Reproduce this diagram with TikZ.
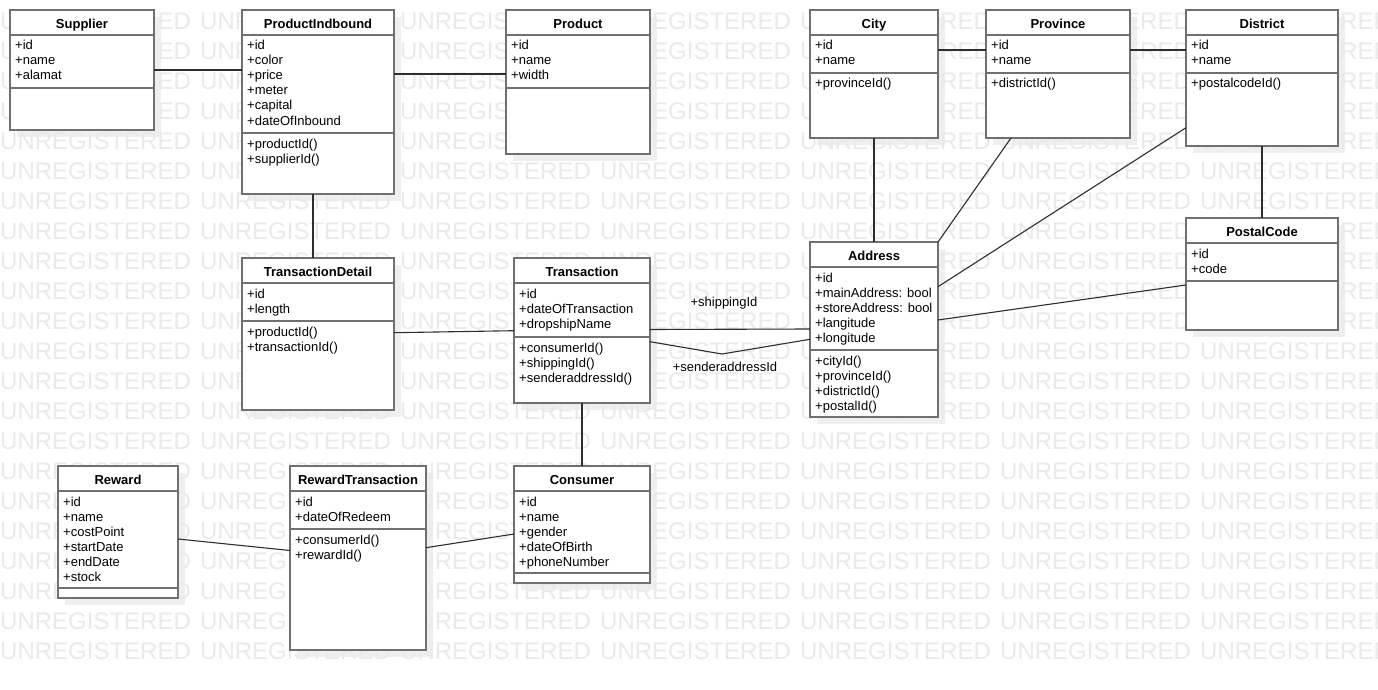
\documentclass[tikz,border=0pt]{standalone}
\usepackage{fontspec}
\setmainfont{Liberation Sans}
\pgfdeclarelayer{bglayer}
\pgfdeclarelayer{shadowlayer}
\pgfdeclarelayer{wmlayer}
\pgfsetlayers{bglayer,shadowlayer,wmlayer,main}
\definecolor{boxline}{HTML}{707070}
\definecolor{shadowc}{HTML}{EFEFEF}
\definecolor{wmc}{HTML}{EAEAEA}
\definecolor{linkc}{HTML}{2E2E2E}
\tikzset{
  clsbox/.style={draw=boxline, line width=2pt, fill=white, inner sep=0pt, outer sep=0pt, rectangle},
  clssep/.style={draw=boxline, line width=2pt},
  clsshadow/.style={fill=shadowc},
  clstitle/.style={font=\fontsize{13}{15}\selectfont\bfseries, anchor=base, inner sep=0pt},
  member/.style={font=\fontsize{13}{15}\selectfont, anchor=base west, inner sep=0pt},
  wmark/.style={font=\fontsize{24}{24}\selectfont, text=wmc, anchor=base west, inner sep=0pt},
  link/.style={draw=linkc, line width=1.1pt},
  linklabel/.style={font=\fontsize{13}{15}\selectfont, anchor=base, inner sep=0pt},
}
% #1 name, #2 x1, #3 y1, #4 x2, #5 y2, #6 first separator, #7 second separator, #8 title
\newcommand{\umlclass}[8]{%
  \begin{pgfonlayer}{shadowlayer}
    \fill[clsshadow] ({#2+7},{#3+7}) rectangle ({#4+7},{#5+7});
  \end{pgfonlayer}
  \node[clsbox, minimum width={#4-#2}, minimum height={#5-#3}] (#1) at ({(#2+#4)/2},{(#3+#5)/2}) {};
  \draw[clssep] ({#2},{#6}) -- ({#4},{#6});
  \draw[clssep] ({#2},{#7}) -- ({#4},{#7});
  \node[clstitle] (#1-title) at ({(#2+#4)/2},{#3+18.5}) {#8};
}
% #1 prefix, #2 x, #3 first baseline, #4 list
\newcommand{\umlmembers}[4]{%
  \foreach \mtext [count=\mi] in {#4} {
    \node[member] (#1-\mi) at ({#2},{#3+15*(\mi-1)}) {\mtext};
  }
}
\begin{document}
\begin{tikzpicture}[x=1pt,y=-1pt]
\useasboundingbox (0,0) rectangle (1378,690);
\begin{pgfonlayer}{bglayer}
\fill[white] (0,0) rectangle (1378,690);
\end{pgfonlayer}
% watermark
\begin{pgfonlayer}{wmlayer}
\begin{scope}
\clip (0,0) rectangle (1378,690);
\foreach \r in {0,...,21} {
  \foreach \c in {0,...,6} {
    \node[wmark] (wm-\r-\c) at ({200*\c},{29.5+30*\r}) {UNREGISTERED};
  }
}
\end{scope}
\end{pgfonlayer}

% classes
\umlclass{supplier}{10}{10}{154}{130}{35}{88}{Supplier}
\umlmembers{supplier-a}{15}{50}{{+id},{+name},{+alamat}}

\umlclass{pin}{242}{10}{394}{194}{35}{133}{ProductIndbound}
\umlmembers{pin-a}{247}{50}{{+id},{+color},{+price},{+meter},{+capital},{+dateOfInbound}}
\umlmembers{pin-m}{247}{148}{{+productId()},{+supplierId()}}

\umlclass{product}{506}{10}{650}{154}{35}{88}{Product}
\umlmembers{product-a}{511}{50}{{+id},{+name},{+width}}

\umlclass{city}{810}{10}{938}{138}{35}{73}{City}
\umlmembers{city-a}{815}{50}{{+id},{+name}}
\umlmembers{city-m}{815}{88}{{+provinceId()}}

\umlclass{prov}{986}{10}{1130}{138}{35}{73}{Province}
\umlmembers{prov-a}{991}{50}{{+id},{+name}}
\umlmembers{prov-m}{991}{88}{{+districtId()}}

\umlclass{district}{1186}{10}{1338}{146}{35}{73}{District}
\umlmembers{district-a}{1191}{50}{{+id},{+name}}
\umlmembers{district-m}{1191}{88}{{+postalcodeId()}}

\umlclass{postal}{1186}{218}{1338}{330}{243}{281}{PostalCode}
\umlmembers{postal-a}{1191}{258}{{+id},{+code}}

\umlclass{addr}{810}{242}{938}{417}{267}{350}{Address}
\umlmembers{addr-a}{815}{282}{{+id},{+mainAddress: bool},{+storeAddress: bool},{+langitude},{+longitude}}
\umlmembers{addr-m}{815}{365}{{+cityId()},{+provinceId()},{+districtId()},{+postalId()}}

\umlclass{td}{242}{258}{394}{410}{283}{321}{TransactionDetail}
\umlmembers{td-a}{247}{298}{{+id},{+length}}
\umlmembers{td-m}{247}{336}{{+productId()},{+transactionId()}}

\umlclass{trans}{514}{258}{650}{403}{283}{337}{Transaction}
\umlmembers{trans-a}{519}{298}{{+id},{+dateOfTransaction},{+dropshipName}}
\umlmembers{trans-m}{519}{352}{{+consumerId()},{+shippingId()},{+senderaddressId()}}

\umlclass{reward}{58}{466}{178}{598}{491}{588}{Reward}
\umlmembers{reward-a}{63}{506}{{+id},{+name},{+costPoint},{+startDate},{+endDate},{+stock}}

\umlclass{rt}{290}{466}{426}{650}{491}{529}{RewardTransaction}
\umlmembers{rt-a}{295}{506}{{+id},{+dateOfRedeem}}
\umlmembers{rt-m}{295}{544}{{+consumerId()},{+rewardId()}}

\umlclass{consumer}{514}{466}{650}{583}{491}{573}{Consumer}
\umlmembers{consumer-a}{519}{506}{{+id},{+name},{+gender},{+dateOfBirth},{+phoneNumber}}

% connectors
\draw[link] (supplier.east) -- (pin.west |- supplier.east);
\draw[link] ([yshift=-64pt]pin.north east) -- ([yshift=-64pt]product.north west);
\draw[link] ([xshift=-5pt]pin.south) -- ([xshift=-5pt]td.north);
\draw[link] ([yshift=-74.7pt]td.north east) -- ([yshift=-72.7pt]trans.north west);
\draw[link] ([yshift=-71.5pt]trans.north east) -- ([yshift=-87pt]addr.north west);
\coordinate (sendbend) at (722,354);
\draw[link] ([yshift=-83.7pt]trans.north east) -- (sendbend) -- ([yshift=-97.3pt]addr.north west);
\node[linklabel] (shiplabel) at (724,306) {+shippingId};
\node[linklabel] (sendlabel) at (725,371) {+senderaddressId};
\draw[link] (trans.south) -- (consumer.north);
\draw[link] ([yshift=-40pt]city.north east) -- ([yshift=-40pt]prov.north west);
\draw[link] ([yshift=-40pt]prov.north east) -- ([yshift=-40pt]district.north west);
\draw[link] (city.south) -- (addr.north);
\draw[link] ([xshift=25pt]prov.south west) -- (addr.north east);
\draw[link] ([yshift=-117.7pt]district.north west) -- ([yshift=-44.7pt]addr.north east);
\draw[link] (district.south) -- (postal.north);
\draw[link] ([yshift=-67pt]postal.north west) -- ([yshift=-78pt]addr.north east);
\draw[link] ([yshift=-73pt]reward.north east) -- ([yshift=-84.5pt]rt.north west);
\draw[link] ([yshift=-81.7pt]rt.north east) -- ([yshift=-68pt]consumer.north west);
\end{tikzpicture}
\end{document}
